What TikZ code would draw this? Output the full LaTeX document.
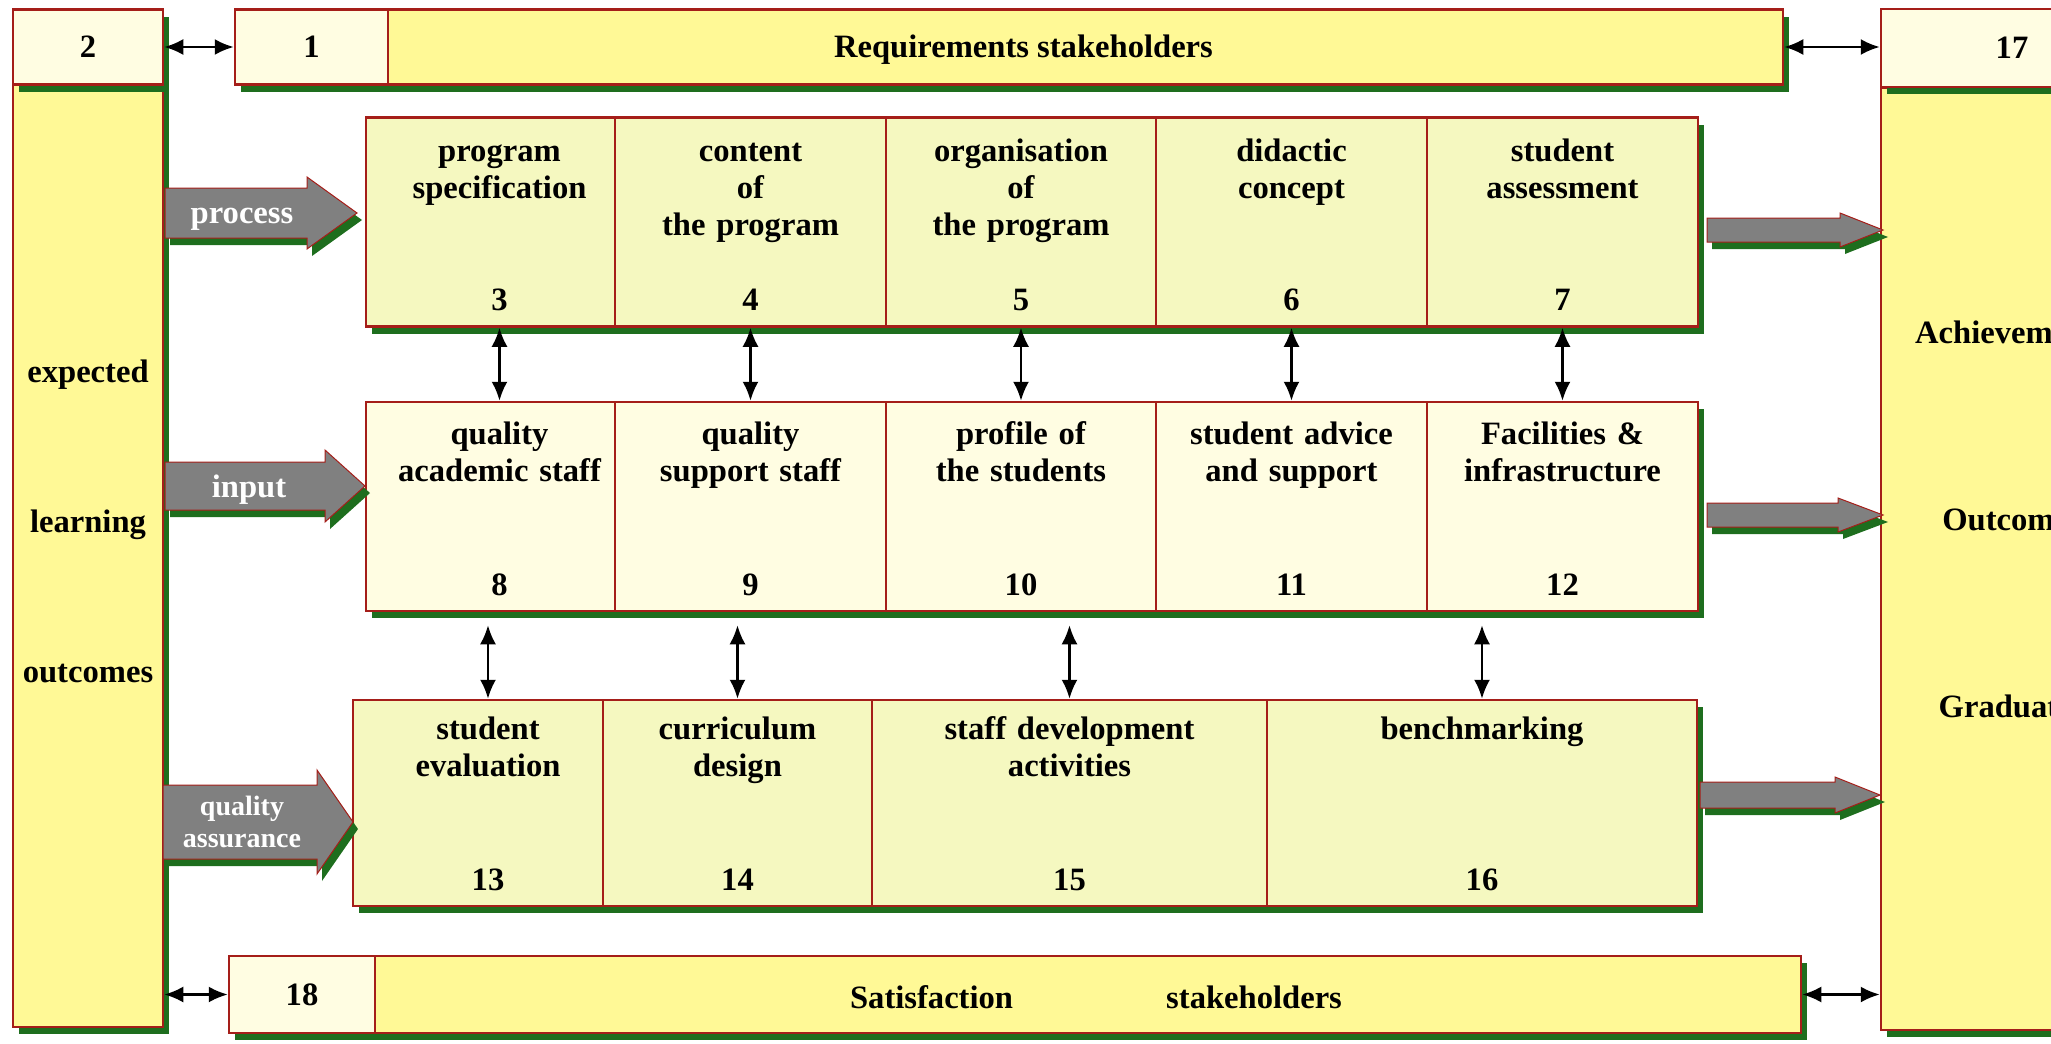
\documentclass[tikz,border=0pt]{standalone}
\usepackage{fontspec}
\setmainfont{Liberation Serif}
\usetikzlibrary{arrows.meta,shadows,calc}
\definecolor{edge}{RGB}{165,30,25}
\definecolor{shade}{RGB}{30,110,30}
\definecolor{pale}{RGB}{245,248,192}
\definecolor{cream}{RGB}{255,253,226}
\definecolor{lemon}{RGB}{255,249,150}
\definecolor{pipe}{RGB}{128,128,128}
\tikzset{
  box/.style={draw=edge, line width=2.5pt, inner sep=0pt,
    drop shadow={shadow xshift=6pt, shadow yshift=-7pt, fill=shade, opacity=1}},
  cell/.style={box, fill=pale, minimum height=209pt},
  head/.style={box, fill=cream, minimum height=75pt},
  title/.style={anchor=base, yshift=-44pt, inner sep=0pt, text width=300pt, align=center},
  num/.style={anchor=base, yshift=17pt, inner sep=0pt},
  dbl/.style={<->, >={Latex[length=19pt,width=16pt]}, line width=2.4pt},
  fat/.style={fill=pipe, draw=edge, line width=1pt,
    drop shadow={shadow xshift=5pt, shadow yshift=-7pt, fill=shade, opacity=1}},
  wtext/.style={text=white, inner sep=0pt, align=center}
}
\begin{document}
\begin{tikzpicture}[x=1pt, y=-1pt, font=\fontsize{32.6}{37}\selectfont\bfseries]
\useasboundingbox (0,0) rectangle (2051,1044);
\clip (0,0) rectangle (2051,1044);
\node[box, fill=lemon, minimum width=150pt, minimum height=942pt,
  label={[title, yshift=-255pt, text width=150pt]north:{expected\\[113pt]learning\\[113pt]outcomes}}] (lo) at (88,556) {};
\node[head, minimum width=150pt] (hd2) at (88,47) {2};
\node[head, minimum width=153pt] (hd1) at (311.5,47) {1};
\node[box, fill=lemon, minimum width=1395pt, minimum height=75pt,
  label={[anchor=center, yshift=-41.5pt, xshift=-62pt]north:{Requirements stakeholders}}] (req) at (1085.5,47) {};
\node[box, fill=lemon, minimum width=262pt, minimum height=942pt,
  label={[title, yshift=-213pt, text width=262pt]north:{Achievements\\[150pt]Outcomes\\[150pt]Graduates}}] (hi) at (2012,559) {};
\node[head, minimum width=262pt, minimum height=78pt] (hd17) at (2012,48) {17};

\node[cell, minimum width=249pt, label={[title, yshift=-1pt, xshift=9pt]north:{program\\specification}}, label={[num, xshift=9pt]south:3}] (c3) at (490.5,222) {};
\node[cell, minimum width=271pt, label={[title, yshift=-1pt]north:{content\\of\\the program}}, label={[num]south:4}] (c4) at (750.5,222) {};
\node[cell, minimum width=270pt, label={[title, yshift=-1pt]north:{organisation\\of\\the program}}, label={[num]south:5}] (c5) at (1021,222) {};
\node[cell, minimum width=271pt, label={[title, yshift=-1pt]north:{didactic\\concept}}, label={[num]south:6}] (c6) at (1291.5,222) {};
\node[cell, minimum width=271pt, label={[title, yshift=-1pt]north:{student\\assessment}}, label={[num]south:7}] (c7) at (1562.5,222) {};

\node[cell, fill=cream, minimum width=249pt, label={[title, xshift=9pt]north:{quality\\academic staff}}, label={[num, xshift=9pt]south:8}] (c8) at (490.5,506.5) {};
\node[cell, fill=cream, minimum width=271pt, label={[title]north:{quality\\support staff}}, label={[num]south:9}] (c9) at (750.5,506.5) {};
\node[cell, fill=cream, minimum width=270pt, label={[title]north:{profile of\\the students}}, label={[num]south:10}] (c10) at (1021,506.5) {};
\node[cell, fill=cream, minimum width=271pt, label={[title]north:{student advice\\and support}}, label={[num]south:11}] (c11) at (1291.5,506.5) {};
\node[cell, fill=cream, minimum width=271pt, label={[title]north:{Facilities \&\\infrastructure}}, label={[num]south:12}] (c12) at (1562.5,506.5) {};

\node[cell, minimum width=250pt, minimum height=206pt, label={[title, yshift=3pt, xshift=10pt]north:{student\\evaluation}}, label={[num, xshift=10pt]south:13}] (c13) at (478,803) {};
\node[cell, minimum width=269pt, minimum height=206pt, label={[title, yshift=3pt]north:{curriculum\\design}}, label={[num]south:14}] (c14) at (737.5,803) {};
\node[cell, minimum width=395pt, minimum height=206pt, label={[title, yshift=3pt]north:{staff development\\activities}}, label={[num]south:15}] (c15) at (1069.5,803) {};
\node[cell, minimum width=430pt, minimum height=206pt, label={[title, yshift=3pt]north:{benchmarking}}, label={[num]south:16}] (c16) at (1482,803) {};

\node[head, minimum width=146pt, minimum height=77pt] (hd18) at (302,994.5) {18};
\node[box, fill=lemon, minimum width=1426pt, minimum height=77pt,
  label={[anchor=center, yshift=-42.5pt, xshift=8pt]north:{Satisfaction\hspace{145pt} stakeholders}}] (sat) at (1088,994.5) {};

\path[fat] (165,188) -- (307,188) -- (307,177) -- (357,213) -- (307,249) -- (307,238) -- (165,238) -- cycle;
\node[wtext] (process) at (242,219) {process};
\path[fat] (165,462) -- (325,462) -- (325,450) -- (365,486) -- (325,522) -- (325,510) -- (165,510) -- cycle;
\node[wtext] (input) at (249,490) {input};
\path[fat] (163,785) -- (317,785) -- (317,770) -- (353,822) -- (317,874) -- (317,859) -- (163,859) -- cycle;
\node[wtext, font=\fontsize{28}{32}\selectfont\bfseries] (qa) at (242,822) {quality\\assurance};

\path[fat] (1707,218) -- (1840,218) -- (1840,213) -- (1883,230) -- (1840,247) -- (1840,242) -- (1707,242) -- cycle;
\path[fat] (1707,503) -- (1838,503) -- (1838,498) -- (1883,515) -- (1838,532) -- (1838,527) -- (1707,527) -- cycle;
\path[fat] (1700,782) -- (1835,782) -- (1835,777) -- (1880,795) -- (1835,813) -- (1835,808) -- (1700,808) -- cycle;

\draw[dbl] ($(c3.south)+(9,0)$) -- ($(c8.north)+(9,0)$);
\draw[dbl] (c4.south) -- (c9.north);
\draw[dbl] (c5.south) -- (c10.north);
\draw[dbl] (c6.south) -- (c11.north);
\draw[dbl] (c7.south) -- (c12.north);
\draw[dbl] ($(c13.north |- c8.south)+(10,13)$) -- ($(c13.north)+(10,0)$);
\draw[dbl] ($(c14.north |- c9.south)+(0,13)$) -- (c14.north);
\draw[dbl] ($(c15.north |- c10.south)+(0,13)$) -- (c15.north);
\draw[dbl] ($(c16.north |- c12.south)+(0,13)$) -- (c16.north);

\draw[dbl] (hd2.east) -- (hd1.west);
\draw[dbl] (req.east) -- (req.east -| hd17.west);
\draw[dbl] (hd18.west -| lo.east) -- (hd18.west);
\draw[dbl] (sat.east) -- (sat.east -| hi.west);
\end{tikzpicture}
\end{document}
